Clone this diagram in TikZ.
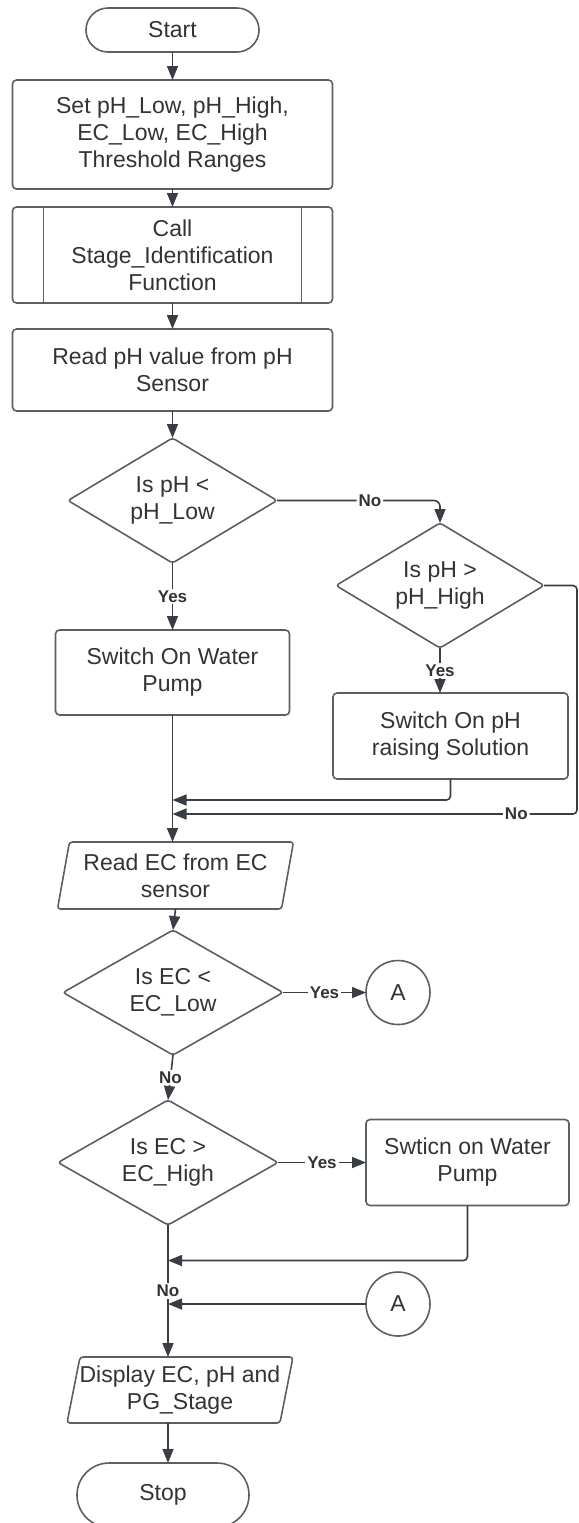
\documentclass[tikz,border=0pt]{standalone}
\usepackage{fontspec}
\setmainfont{Liberation Sans}
\usetikzlibrary{shapes.geometric, positioning, arrows.meta}
\definecolor{ink}{HTML}{333333}
\definecolor{edge}{HTML}{5B5F64}
\definecolor{wire}{HTML}{3A3E44}

\begin{document}
\begin{tikzpicture}[->, >={Triangle[length=7pt,width=5.5pt]}, thick, color=wire, x=1pt, y=1pt,
    box/.style={rectangle, draw=edge, rounded corners=2pt, text=ink, align=center, inner sep=2pt,
      outer sep=0pt, font=\fontsize{11.5}{13.5}\selectfont},
    term/.style={box, rounded corners=11pt},
    dec/.style={box, diamond, rounded corners=1.5pt, aspect=1.7, inner sep=0pt},
    io/.style={box, trapezium, trapezium left angle=77, trapezium right angle=103,
      trapezium stretches body, rounded corners=1.5pt},
    conn/.style={box, circle, minimum size=32pt, inner sep=0pt},
    lbl/.style={fill=white, text=ink, inner sep=1pt, font=\fontsize{8.5}{10}\selectfont\bfseries}]
  \useasboundingbox (0,0) rectangle (289.5,-761.5);
  \node[term, minimum width=86.5pt, minimum height=22pt] (start) at (86.25,-15) {Start};
  \node[box, below=14pt of start, minimum width=160pt, minimum height=54.5pt] (set) {Set pH\_Low, pH\_High,\\EC\_Low, EC\_High\\Threshold Ranges};
  \node[box, below=9pt of set, minimum width=160pt, minimum height=48pt] (call) {Call\\Stage\_Identification\\Function};
  \node[box, below=13pt of call, minimum width=160pt, minimum height=41pt] (readph) {Read pH value from pH\\Sensor};
  \node[dec, below=13.5pt of readph, minimum width=104.5pt, minimum height=62.5pt] (isphlow) {Is pH <\\pH\_Low};
  \node[box, below=33.5pt of isphlow, minimum width=117pt, minimum height=42.5pt] (pumpon) {Switch On Water\\Pump};
  \node[dec, right=29.5pt of isphlow, yshift=-42.5pt, minimum width=104pt, minimum height=62.5pt] (isphhigh) {Is pH >\\pH\_High};
  \node[box, below=22.5pt of isphhigh, xshift=5.25pt, minimum width=117.5pt, minimum height=43pt] (raise) {Switch On pH\\raising Solution};
  \node[io, below=63.5pt of pumpon, xshift=1.5pt, minimum width=118pt, minimum height=33.5pt] (readec) {Read EC from EC\\sensor};
  \node[dec, below=10.5pt of readec, xshift=-1.25pt, minimum width=110pt, minimum height=62.5pt] (iseclow) {Is EC <\\EC\_Low};
  \node[conn, right=41.5pt of iseclow] (aout) {A};
  \node[dec, below=22.5pt of iseclow, xshift=-2.5pt, minimum width=110pt, minimum height=62.5pt] (isechigh) {Is EC >\\EC\_High};
  \node[box, right=44pt of isechigh, minimum width=101.5pt, minimum height=43pt] (pumpec) {Swticn on Water\\Pump};
  \node[conn, below=123.75pt of aout] (ain) {A};
  \node[io, below=66pt of isechigh, xshift=6pt, minimum width=113pt, minimum height=33pt, inner xsep=-1.5pt] (show) {Display EC, pH and\\PG\_Stage};
  \node[term, below=20pt of show, xshift=-8.5pt, minimum width=86pt, minimum height=32pt, rounded corners=16pt] (stop) {Stop};
  \draw[-, edge] ([xshift=15.5pt]call.north west) -- ([xshift=15.5pt]call.south west);
  \draw[-, edge] ([xshift=-15.5pt]call.north east) -- ([xshift=-15.5pt]call.south east);
  \coordinate[below=10.5pt of raise.south] (j1);
  \coordinate[below=17.5pt of raise.south] (j2);
  \coordinate[right=16.5pt of isphhigh.east] (e1);
  \coordinate[below=27.5pt of pumpec.south] (j3);
  \draw (start) -- (set);
  \draw (set) -- (call);
  \draw (call) -- (readph);
  \draw (readph) -- (isphlow);
  \draw (isphlow) -- node[lbl]{Yes} (pumpon);
  \draw[rounded corners=3pt] (isphlow.east) -| node[lbl, pos=0.285]{No} (isphhigh.north);
  \draw (isphhigh.south) -- node[lbl]{Yes} (isphhigh.south |- raise.north);
  \draw[rounded corners=2pt] (raise.south) |- (pumpon.south |- j1);
  \draw[rounded corners=2pt] (isphhigh.east) -- (e1) |- node[lbl, pos=0.575]{No} (pumpon.south |- j2);
  \draw (pumpon.south) -- (pumpon.south |- readec.north);
  \draw (readec.south) -- (iseclow.north);
  \draw (iseclow) -- node[lbl]{Yes} (aout);
  \draw (iseclow.south) -- node[lbl]{No} (isechigh.north);
  \draw (isechigh) -- node[lbl]{Yes} (pumpec);
  \draw[rounded corners=2pt] (pumpec.south) |- (isechigh.south |- j3);
  \draw (ain) -- (isechigh.south |- ain);
  \draw (isechigh) -- node[lbl]{No} (isechigh.south |- show.north);
  \draw (isechigh.south |- show.south) -- (isechigh.south |- stop.north);
\end{tikzpicture}
\end{document}
